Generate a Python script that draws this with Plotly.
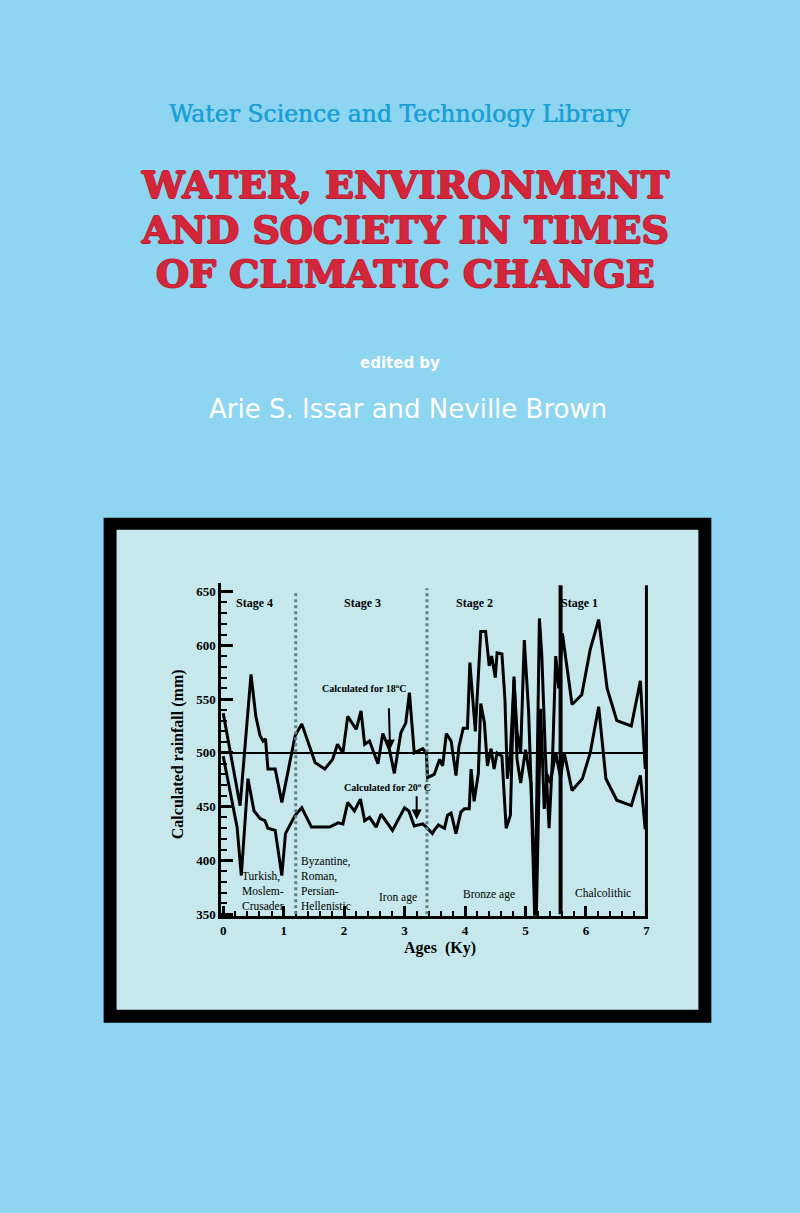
import plotly.graph_objects as go

# Calculated rainfall (mm) against age (Ky)
ages_18c = [0, 0.28, 0.46, 0.54, 0.61, 0.66, 0.70, 0.74, 0.86, 0.97, 1.19, 1.30,
            1.52, 1.68, 1.81, 1.89, 1.98, 2.06, 2.20, 2.28, 2.34, 2.42, 2.56, 2.64,
            2.75, 2.83, 2.94, 3.02, 3.08, 3.16, 3.30, 3.36, 3.38, 3.49, 3.58, 3.63,
            3.69, 3.77, 3.85, 3.90, 3.97, 4.04, 4.08, 4.12, 4.17, 4.26, 4.34, 4.40,
            4.44, 4.50, 4.53, 4.61, 4.66, 4.70, 4.75, 4.81, 4.86, 4.92, 4.98, 5.05,
            5.12, 5.16, 5.23, 5.27, 5.33, 5.39, 5.45, 5.50, 5.55, 5.61, 5.77, 5.93,
            6.07, 6.21, 6.35, 6.51, 6.75, 6.90, 6.98]
rain_18c = [537, 451, 573, 534, 516, 511, 513, 485, 485, 454, 516, 527,
            491, 485, 494, 508, 500, 534, 522, 539, 508, 511, 490, 518,
            503, 481, 519, 528, 556, 500, 504, 500, 477, 480, 494, 488,
            518, 511, 479, 506, 523, 523, 584, 555, 520, 613, 613, 581,
            590, 570, 593, 592, 550, 476, 500, 568, 520, 500, 605, 540,
            426, 360, 625, 590, 497, 430, 500, 590, 560, 611, 545, 554,
            596, 624, 560, 530, 525, 567, 485]

ages_20c = [0, 0.23, 0.30, 0.41, 0.51, 0.61, 0.69, 0.74, 0.86, 0.97, 1.03, 1.19,
            1.30, 1.46, 1.76, 1.90, 1.98, 2.06, 2.17, 2.27, 2.34, 2.42, 2.53, 2.61,
            2.80, 3.00, 3.07, 3.16, 3.30, 3.36, 3.46, 3.49, 3.56, 3.66, 3.71, 3.77,
            3.85, 3.93, 3.99, 4.07, 4.10, 4.15, 4.22, 4.26, 4.32, 4.37, 4.43, 4.48,
            4.53, 4.61, 4.68, 4.75, 4.81, 4.86, 4.92, 5.00, 5.09, 5.15, 5.18, 5.25,
            5.31, 5.36, 5.41, 5.50, 5.58, 5.64, 5.77, 5.94, 6.07, 6.21, 6.33, 6.51,
            6.75, 6.90, 6.98]
rain_20c = [497, 431, 386, 476, 446, 439, 437, 430, 428, 386, 425, 442,
            449, 431, 431, 435, 434, 454, 446, 457, 437, 440, 431, 443,
            428, 449, 446, 432, 434, 431, 425, 428, 433, 430, 442, 444,
            425, 445, 448, 448, 485, 455, 481, 546, 528, 488, 504, 485,
            500, 497, 430, 442, 571, 494, 472, 503, 472, 350, 350, 541,
            448, 480, 472, 500, 477, 500, 465, 476, 500, 543, 476, 456,
            451, 479, 429]

stage_names = ["Stage 4", "Stage 3", "Stage 2", "Stage 1"]
stage_label_x = [0.18, 2.3, 4.15, 5.9]
stage_bounds = [1.2, 3.37, 5.58]
period_names = ["Turkish,<br>Moslem-<br>Crusader",
                "Byzantine,<br>Roman,<br>Persian-<br>Hellenistic",
                "Iron age", "Bronze age", "Chalcolithic"]
period_x = [0.27, 1.25, 2.55, 3.94, 5.78]
period_y = [350, 350, 358, 360, 362]

serif = "Liberation Serif"
fig = go.Figure()

fig.add_trace(go.Scatter(x=ages_18c, y=rain_18c, mode="lines",
                         line=dict(color="black", width=3), showlegend=False))
fig.add_trace(go.Scatter(x=ages_20c, y=rain_20c, mode="lines",
                         line=dict(color="black", width=3), showlegend=False))

# frame of the picture on the cover
fig.add_shape(type="rect", xref="paper", yref="paper", layer="below",
              x0=103 / 800, x1=713 / 800, y0=1 - 1027 / 1213, y1=1 - 520 / 1213,
              fillcolor="black", line_width=0)
fig.add_shape(type="rect", xref="paper", yref="paper", layer="below",
              x0=116 / 800, x1=700 / 800, y0=1 - 1014 / 1213, y1=1 - 532 / 1213,
              fillcolor="#c6e8ec", line_width=0)

# 500 mm reference line
fig.add_shape(type="line", x0=0, x1=7, y0=500, y1=500,
              line=dict(color="black", width=2))
# stage boundaries
fig.add_shape(type="line", x0=stage_bounds[0], x1=stage_bounds[0], y0=350, y1=650,
              line=dict(color="#5f7f80", width=3, dash="dot"))
fig.add_shape(type="line", x0=stage_bounds[1], x1=stage_bounds[1], y0=350, y1=653,
              line=dict(color="#5f7f80", width=3, dash="dot"))
fig.add_shape(type="line", x0=stage_bounds[2], x1=stage_bounds[2], y0=350, y1=656,
              line=dict(color="black", width=4))
fig.add_shape(type="line", x0=7, x1=7, y0=350, y1=656,
              line=dict(color="black", width=3))

for name, sx in zip(stage_names, stage_label_x):
    fig.add_annotation(x=sx, y=639, text=f"<b>{name}</b>", showarrow=False,
                       xanchor="left" if name == "Stage 4" else "center",
                       yanchor="middle",
                       font=dict(family=serif, size=12, color="black"))

for name, px, py in zip(period_names, period_x, period_y):
    fig.add_annotation(x=px, y=py, text=name, showarrow=False, xanchor="left",
                       yanchor="bottom", align="left",
                       font=dict(family=serif, size=11.5, color="black"))

fig.add_annotation(x=2.33, y=560, text="<b>Calculated for 18<sup>o</sup>C</b>",
                   showarrow=False, yanchor="middle",
                   font=dict(family=serif, size=10, color="black"))
fig.add_annotation(x=2.76, y=503, ax=2.74, ay=543, xref="x", yref="y",
                   axref="x", ayref="y", text="", showarrow=True, arrowhead=2,
                   arrowsize=1, arrowwidth=2, arrowcolor="black")
fig.add_annotation(x=2.72, y=468, text="<b>Calculated for 20<sup>o</sup> C</b>",
                   showarrow=False, yanchor="middle",
                   font=dict(family=serif, size=10, color="black"))
fig.add_annotation(x=3.2, y=438, ax=3.2, ay=461, xref="x", yref="y",
                   axref="x", ayref="y", text="", showarrow=True, arrowhead=2,
                   arrowsize=1, arrowwidth=2, arrowcolor="black")


def cover_text(text, y_px, x_px=400, **font):
    fig.add_annotation(xref="paper", yref="paper", x=x_px / 800,
                       y=1 - y_px / 1213, xanchor="center", yanchor="middle",
                       text=text, showarrow=False, font=font)


# axis titles
fig.add_annotation(xref="paper", yref="paper", x=178 / 800, y=1 - 757 / 1213,
                   xanchor="center", yanchor="middle",
                   text="<b>Calculated rainfall (mm)</b>", textangle=-90,
                   showarrow=False, font=dict(family=serif, size=16, color="black"))
cover_text("<b>Ages  (Ky)</b>", 952, x_px=441, family=serif, size=16,
           color="black")

# cover texts
cover_text("Water Science and Technology Library", 114,
           family="DejaVu Serif", size=23.5, color="#1a9fd6",
           shadow="0.5px 0 0 #1a9fd6")
red_edge = "1px 0 0 #c42436, -1px 0 0 #c42436, 0 1px 0 #b01f30, 0 -1px 0 #c42436"
for i, line in enumerate(["WATER, ENVIRONMENT", "AND SOCIETY IN TIMES",
                          "OF CLIMATIC CHANGE"]):
    cover_text(f"<b>{line}</b>", 185 + 45 * i, x_px=406,
               family="DejaVu Serif", size=38, color="#d3263a", shadow=red_edge)
cover_text("<b>edited by</b>", 365, family="DejaVu Sans", size=15, color="white")
cover_text("Arie S. Issar and Neville Brown", 411, x_px=409,
           family="DejaVu Sans", size=26, color="white")

fig.update_layout(
    width=800, height=1213,
    margin=dict(l=0, r=0, t=0, b=0),
    paper_bgcolor="#8dd5f0",
    plot_bgcolor="rgba(0,0,0,0)",
    showlegend=False,
    xaxis=dict(range=[-0.03, 7.03], domain=[0.2765, 0.8121],
               showline=True, linewidth=3, linecolor="black",
               ticks="inside", ticklen=10, tickwidth=2.5, tickcolor="black",
               tick0=0, dtick=1, showgrid=False, zeroline=False,
               minor=dict(ticks="inside", ticklen=5, tickwidth=2,
                          tickcolor="black", dtick=0.2, tick0=0),
               tickfont=dict(family=serif, size=13, color="black", weight="bold")),
    yaxis=dict(range=[348, 658], domain=[0.2414, 0.5174],
               showline=True, linewidth=3, linecolor="black",
               ticks="inside", ticklen=12, tickwidth=2.5, tickcolor="black",
               tick0=350, dtick=50, showgrid=False, zeroline=False,
               minor=dict(ticks="inside", ticklen=6, tickwidth=2,
                          tickcolor="black", dtick=10, tick0=350),
               tickfont=dict(family=serif, size=13, color="black", weight="bold")),
)

fig.write_html("out.html", config={"displayModeBar": False},
               post_script="document.body.style.margin = '0';")
